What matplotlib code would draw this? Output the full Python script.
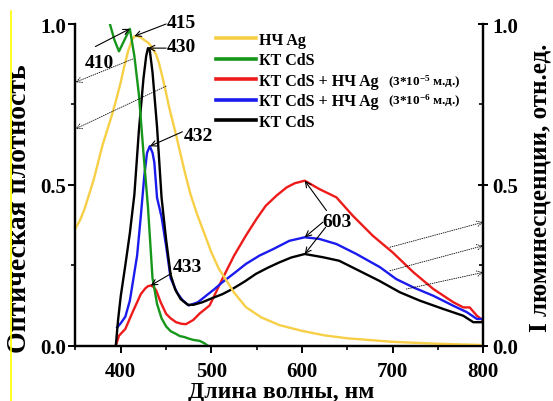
import numpy as np
import matplotlib.pyplot as plt
from matplotlib.lines import Line2D

plt.rcParams['font.family'] = ['Liberation Serif', 'DejaVu Serif']
plt.rcParams['font.weight'] = 'bold'
plt.rcParams['mathtext.fontset'] = 'custom'
plt.rcParams['mathtext.rm'] = 'Liberation Serif:bold'
plt.rcParams['mathtext.bf'] = 'Liberation Serif:bold'
plt.rcParams['mathtext.default'] = 'rm'

# поглощение НЧ Ag
wl_ag = [350, 355, 360, 365, 370, 375, 380, 385, 390, 395, 400, 404, 408, 412, 415,
         418, 422, 426, 431, 435, 439, 442, 446, 450, 453, 457, 461, 466, 471, 477,
         484, 492, 500, 508, 516, 525, 538, 555, 575, 600, 625, 650, 700, 750, 800]
abs_ag = [0.365, 0.39, 0.425, 0.47, 0.515, 0.57, 0.625, 0.67, 0.715, 0.765, 0.82, 0.87,
          0.915, 0.948, 0.962, 0.963, 0.958, 0.95, 0.94, 0.925, 0.905, 0.88, 0.835,
          0.785, 0.745, 0.70, 0.655, 0.595, 0.535, 0.47, 0.41, 0.35, 0.29, 0.24, 0.205,
          0.165, 0.12, 0.088, 0.064, 0.046, 0.032, 0.023, 0.012, 0.006, 0.002]

# поглощение КТ CdS
wl_cds = [388, 393, 398, 404, 410, 415, 420, 425, 430, 435, 440, 445, 450, 455, 460,
          465, 470, 475, 480, 487, 492, 496]
abs_cds = [1.0, 0.95, 0.915, 0.95, 0.985, 0.90, 0.78, 0.60, 0.43, 0.21, 0.13, 0.085,
           0.06, 0.045, 0.038, 0.03, 0.027, 0.022, 0.018, 0.015, 0.008, 0.0]

# люминесценция КТ CdS + НЧ Ag (3*10^-5 м.д.)
wl_lum5 = [394.5, 398, 405, 413, 418, 422, 427, 430, 433, 436, 439, 444, 450, 455, 461,
           467, 472, 480, 487, 498, 512, 525, 538, 550, 560, 572, 583, 592, 603, 619,
           638, 656, 678, 700, 723, 745, 767, 778, 785, 793, 800]
lum5 = [0.0, 0.031, 0.052, 0.104, 0.135, 0.16, 0.178, 0.185, 0.187, 0.183, 0.172, 0.135,
        0.099, 0.085, 0.073, 0.068, 0.067, 0.08, 0.10, 0.125, 0.207, 0.28, 0.342, 0.395,
        0.435, 0.467, 0.492, 0.505, 0.513, 0.487, 0.461, 0.404, 0.342, 0.29, 0.228,
        0.176, 0.135, 0.119, 0.119, 0.093, 0.078]

# люминесценция КТ CdS + НЧ Ag (3*10^-6 м.д.)
wl_lum6 = [396, 400, 405, 410, 414, 418, 422, 426, 429, 432, 435, 437, 440, 445, 450,
           455, 462, 468, 475, 485, 494, 503, 512, 525, 538, 553, 568, 586, 603, 619,
           638, 660, 686, 704, 723, 745, 767, 782, 793, 800]
lum6 = [0.057, 0.07, 0.09, 0.14, 0.21, 0.28, 0.40, 0.53, 0.60, 0.62, 0.60, 0.57, 0.46,
        0.40, 0.31, 0.21, 0.165, 0.142, 0.125, 0.135, 0.155, 0.175, 0.197, 0.225, 0.254,
        0.28, 0.30, 0.326, 0.337, 0.332, 0.316, 0.285, 0.244, 0.207, 0.181, 0.155,
        0.124, 0.104, 0.083, 0.083]

# люминесценция КТ CdS
wl_lum0 = [394.5, 397, 400, 405, 410, 415, 420, 425, 428, 430, 432, 435, 440, 445, 450,
           455, 460, 466, 474, 480, 490, 501, 512, 523, 537, 549, 562, 575, 588, 603,
           623, 641, 663, 685, 708, 730, 756, 778, 789, 800]
lum0 = [0.0, 0.08, 0.155, 0.25, 0.35, 0.47, 0.67, 0.83, 0.9, 0.925, 0.918, 0.85, 0.68,
        0.46, 0.33, 0.22, 0.175, 0.145, 0.127, 0.127, 0.135, 0.148, 0.16, 0.176, 0.2,
        0.223, 0.242, 0.259, 0.274, 0.285, 0.275, 0.264, 0.233, 0.202, 0.166, 0.14,
        0.114, 0.093, 0.073, 0.073]

YELLOW = '#F7CF47'
GREEN = '#16961A'
RED = '#EE1B1B'
BLUE = '#1B1BEE'

fig = plt.figure(figsize=(5.53, 4.02), dpi=100)
ax = fig.add_axes([0.1365, 0.1376, 0.7374, 0.8002])
ax2 = ax.twinx()
ax.set_zorder(ax2.get_zorder() + 1)
ax.patch.set_visible(False)

l_ag, = ax.plot(wl_ag, abs_ag, color=YELLOW, lw=1.7)
l_cds, = ax.plot(wl_cds, abs_cds, color=GREEN, lw=1.7)
l5, = ax2.plot(wl_lum5, lum5, color=RED, lw=1.7)
l6, = ax2.plot(wl_lum6, lum6, color=BLUE, lw=1.7)
l0, = ax2.plot(wl_lum0, lum0, color='black', lw=1.7)

for a in (ax, ax2):
    a.set_xlim(350, 800)
    a.set_ylim(0, 1.0)
    a.set_yticks([0.0, 0.5, 1.0])
    a.set_yticks([0.25, 0.75], minor=True)
    a.spines['top'].set_visible(False)
    for s in a.spines.values():
        s.set_linewidth(1.6)
ax.set_xticks([400, 500, 600, 700, 800])
ax.set_xticks([350, 450, 550, 650, 750], minor=True)
ax.set_yticklabels(['0.0', '0.5', '1.0'])
ax2.set_yticklabels(['0.0', '0.5', '1.0'])

ax.tick_params(axis='both', which='major', direction='out', length=5, width=1.4,
               labelsize=15)
ax.tick_params(axis='x', which='major', pad=6)
ax.tick_params(axis='y', which='major', pad=2)
ax.tick_params(axis='both', which='minor', direction='out', length=3, width=1.2)
ax2.tick_params(axis='y', which='major', direction='inout', length=7, width=1.4,
                labelsize=15, pad=3)
ax2.tick_params(axis='y', which='minor', direction='in', length=3, width=1.2)

ax.set_xlabel('Длина волны, нм', fontsize=17, fontweight='bold', va='center')
ax.set_ylabel('Оптическая плотность', fontsize=20, fontweight='bold', va='center')
ax2.set_ylabel('I люминесценции, отн.ед.', fontsize=18, fontweight='bold',
               rotation=90, va='center')
ax.xaxis.set_label_coords(0.505, -0.142)
ax.yaxis.set_label_coords(-0.137, 0.43)
ax2.yaxis.set_label_coords(1.138, 0.495)

# легенда
leg = ax.legend([l_ag, l_cds, l5, l6, l0],
                ['НЧ Ag', 'КТ CdS', 'КТ CdS + НЧ Ag', 'КТ CdS + НЧ Ag', 'КТ CdS'],
                loc='upper left', bbox_to_anchor=(0.31, 1.02), frameon=False,
                prop={'family': 'Liberation Serif', 'weight': 'bold', 'size': 11.5},
                handlelength=2.5, handletextpad=0.2, labelspacing=0.28)
for line in leg.get_lines():
    line.set_linewidth(2.6)
ax.text(0.766, 0.822, '(3*10$^{-5}$ м.д.)', transform=ax.transAxes, fontsize=9.5,
        fontweight='bold', va='center')
ax.text(0.766, 0.763, '(3*10$^{-6}$ м.д.)', transform=ax.transAxes, fontsize=9.5,
        fontweight='bold', va='center')


def peak(wl, vals, x):
    return x, float(np.interp(x, wl, vals))


arrow = dict(arrowstyle='->', color='black', lw=0.8, shrinkA=0, shrinkB=0)
num = dict(fontsize=14, fontweight='bold', va='center')

ax.annotate('', xy=peak(wl_ag, abs_ag, 415), xytext=(450, 1.0), arrowprops=arrow,
            annotation_clip=False)
ax.text(451, 1.006, '415', **num)
ax.annotate('', xy=peak(wl_lum0, lum0, 430), xytext=(450, 0.925), arrowprops=arrow)
ax.text(451, 0.93, '430', **num)
ax.annotate('', xy=peak(wl_cds, abs_cds, 410), xytext=(372, 0.93), arrowprops=arrow)
ax.text(376, 0.88, '410', ha='center', **num)
ax.annotate('', xy=peak(wl_lum6, lum6, 432), xytext=(468, 0.665), arrowprops=arrow)
ax.text(470, 0.652, '432', **num)
ax.annotate('', xy=peak(wl_lum5, lum5, 433), xytext=(456, 0.225), arrowprops=arrow)
ax.text(457, 0.245, '433', **num)
for wl, vals, start in ((wl_lum5, lum5, (627, 0.42)),
                        (wl_lum6, lum6, (623, 0.384)),
                        (wl_lum0, lum0, (626, 0.368))):
    ax.annotate('', xy=peak(wl, vals, 603), xytext=start, arrowprops=arrow)
ax.text(623, 0.387, '603', **num)

# пунктирные стрелки к осям
dotted = dict(arrowstyle='->', color='black', lw=0.6, linestyle=':', shrinkA=0,
              shrinkB=0)
ax.annotate('', xy=(350, 0.819), xytext=(413, 0.891), arrowprops=dotted,
            annotation_clip=False)
ax.annotate('', xy=(350, 0.674), xytext=(450, 0.807), arrowprops=dotted,
            annotation_clip=False)
ax.annotate('', xy=(800, 0.384), xytext=(697, 0.306), arrowprops=dotted,
            annotation_clip=False)
ax.annotate('', xy=(800, 0.311), xytext=(697, 0.233), arrowprops=dotted,
            annotation_clip=False)
ax.annotate('', xy=(800, 0.228), xytext=(715, 0.176), arrowprops=dotted,
            annotation_clip=False)

fig.add_artist(Line2D([11 / 553, 11 / 553], [0, 1 - 12 / 402], color='#FFFF00', lw=1.2,
                      transform=fig.transFigure))

fig.savefig('out.png', dpi=100)
